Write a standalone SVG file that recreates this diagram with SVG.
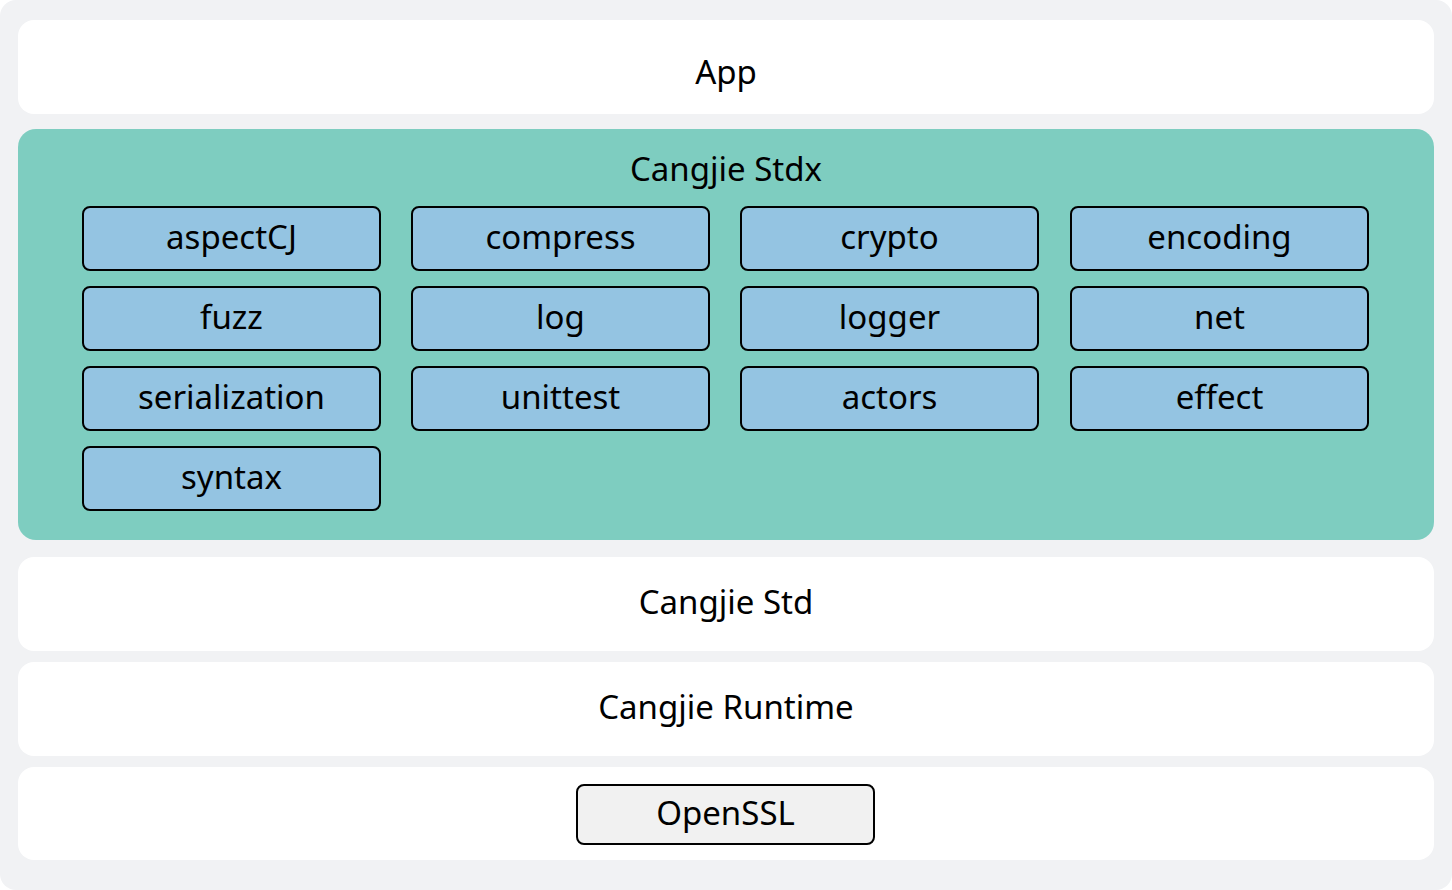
<svg xmlns="http://www.w3.org/2000/svg" width="1452" height="890" viewBox="0 0 1452 890">
<style>
.band{fill:#ffffff}
.mod{fill:#94c4e2;stroke:#000;stroke-width:2}
.ssl{fill:#f1f1f1;stroke:#000;stroke-width:2}
text{font-family:"Noto Sans","Open Sans","Liberation Sans",sans-serif;font-size:33px;fill:#000;text-anchor:middle;dominant-baseline:central}
</style>
<rect x="0" y="0" width="1452" height="890" rx="16" fill="#f1f2f4"/>
<g id="app"><rect class="band" x="18" y="20" width="1416" height="94" rx="16"/><text x="726" y="71">App</text></g>
<g id="stdx"><rect x="18" y="129" width="1416" height="411" rx="18" fill="#7ecdc0"/><text x="726" y="168">Cangjie Stdx</text></g>
<g id="aspectCJ"><rect class="mod" x="83" y="207" width="297" height="63" rx="7"/><text x="231.5" y="236">aspectCJ</text></g>
<g id="compress"><rect class="mod" x="412" y="207" width="297" height="63" rx="7"/><text x="560.5" y="236">compress</text></g>
<g id="crypto"><rect class="mod" x="741" y="207" width="297" height="63" rx="7"/><text x="889.5" y="236">crypto</text></g>
<g id="encoding"><rect class="mod" x="1071" y="207" width="297" height="63" rx="7"/><text x="1219.5" y="236">encoding</text></g>
<g id="fuzz"><rect class="mod" x="83" y="287" width="297" height="63" rx="7"/><text x="231.5" y="316">fuzz</text></g>
<g id="log"><rect class="mod" x="412" y="287" width="297" height="63" rx="7"/><text x="560.5" y="316">log</text></g>
<g id="logger"><rect class="mod" x="741" y="287" width="297" height="63" rx="7"/><text x="889.5" y="316">logger</text></g>
<g id="net"><rect class="mod" x="1071" y="287" width="297" height="63" rx="7"/><text x="1219.5" y="316">net</text></g>
<g id="serialization"><rect class="mod" x="83" y="367" width="297" height="63" rx="7"/><text x="231.5" y="396">serialization</text></g>
<g id="unittest"><rect class="mod" x="412" y="367" width="297" height="63" rx="7"/><text x="560.5" y="396">unittest</text></g>
<g id="actors"><rect class="mod" x="741" y="367" width="297" height="63" rx="7"/><text x="889.5" y="396">actors</text></g>
<g id="effect"><rect class="mod" x="1071" y="367" width="297" height="63" rx="7"/><text x="1219.5" y="396">effect</text></g>
<g id="syntax"><rect class="mod" x="83" y="447" width="297" height="63" rx="7"/><text x="231.5" y="476">syntax</text></g>
<g id="std"><rect class="band" x="18" y="557" width="1416" height="94" rx="16"/><text x="726" y="601">Cangjie Std</text></g>
<g id="runtime"><rect class="band" x="18" y="662" width="1416" height="94" rx="16"/><text x="726" y="706">Cangjie Runtime</text></g>
<g id="openssl-layer"><rect class="band" x="18" y="767" width="1416" height="93" rx="16"/></g>
<g id="openssl"><rect class="ssl" x="577" y="785" width="297" height="59" rx="7"/><text x="725.5" y="812">OpenSSL</text></g>
<g id="connectors"></g>
</svg>
